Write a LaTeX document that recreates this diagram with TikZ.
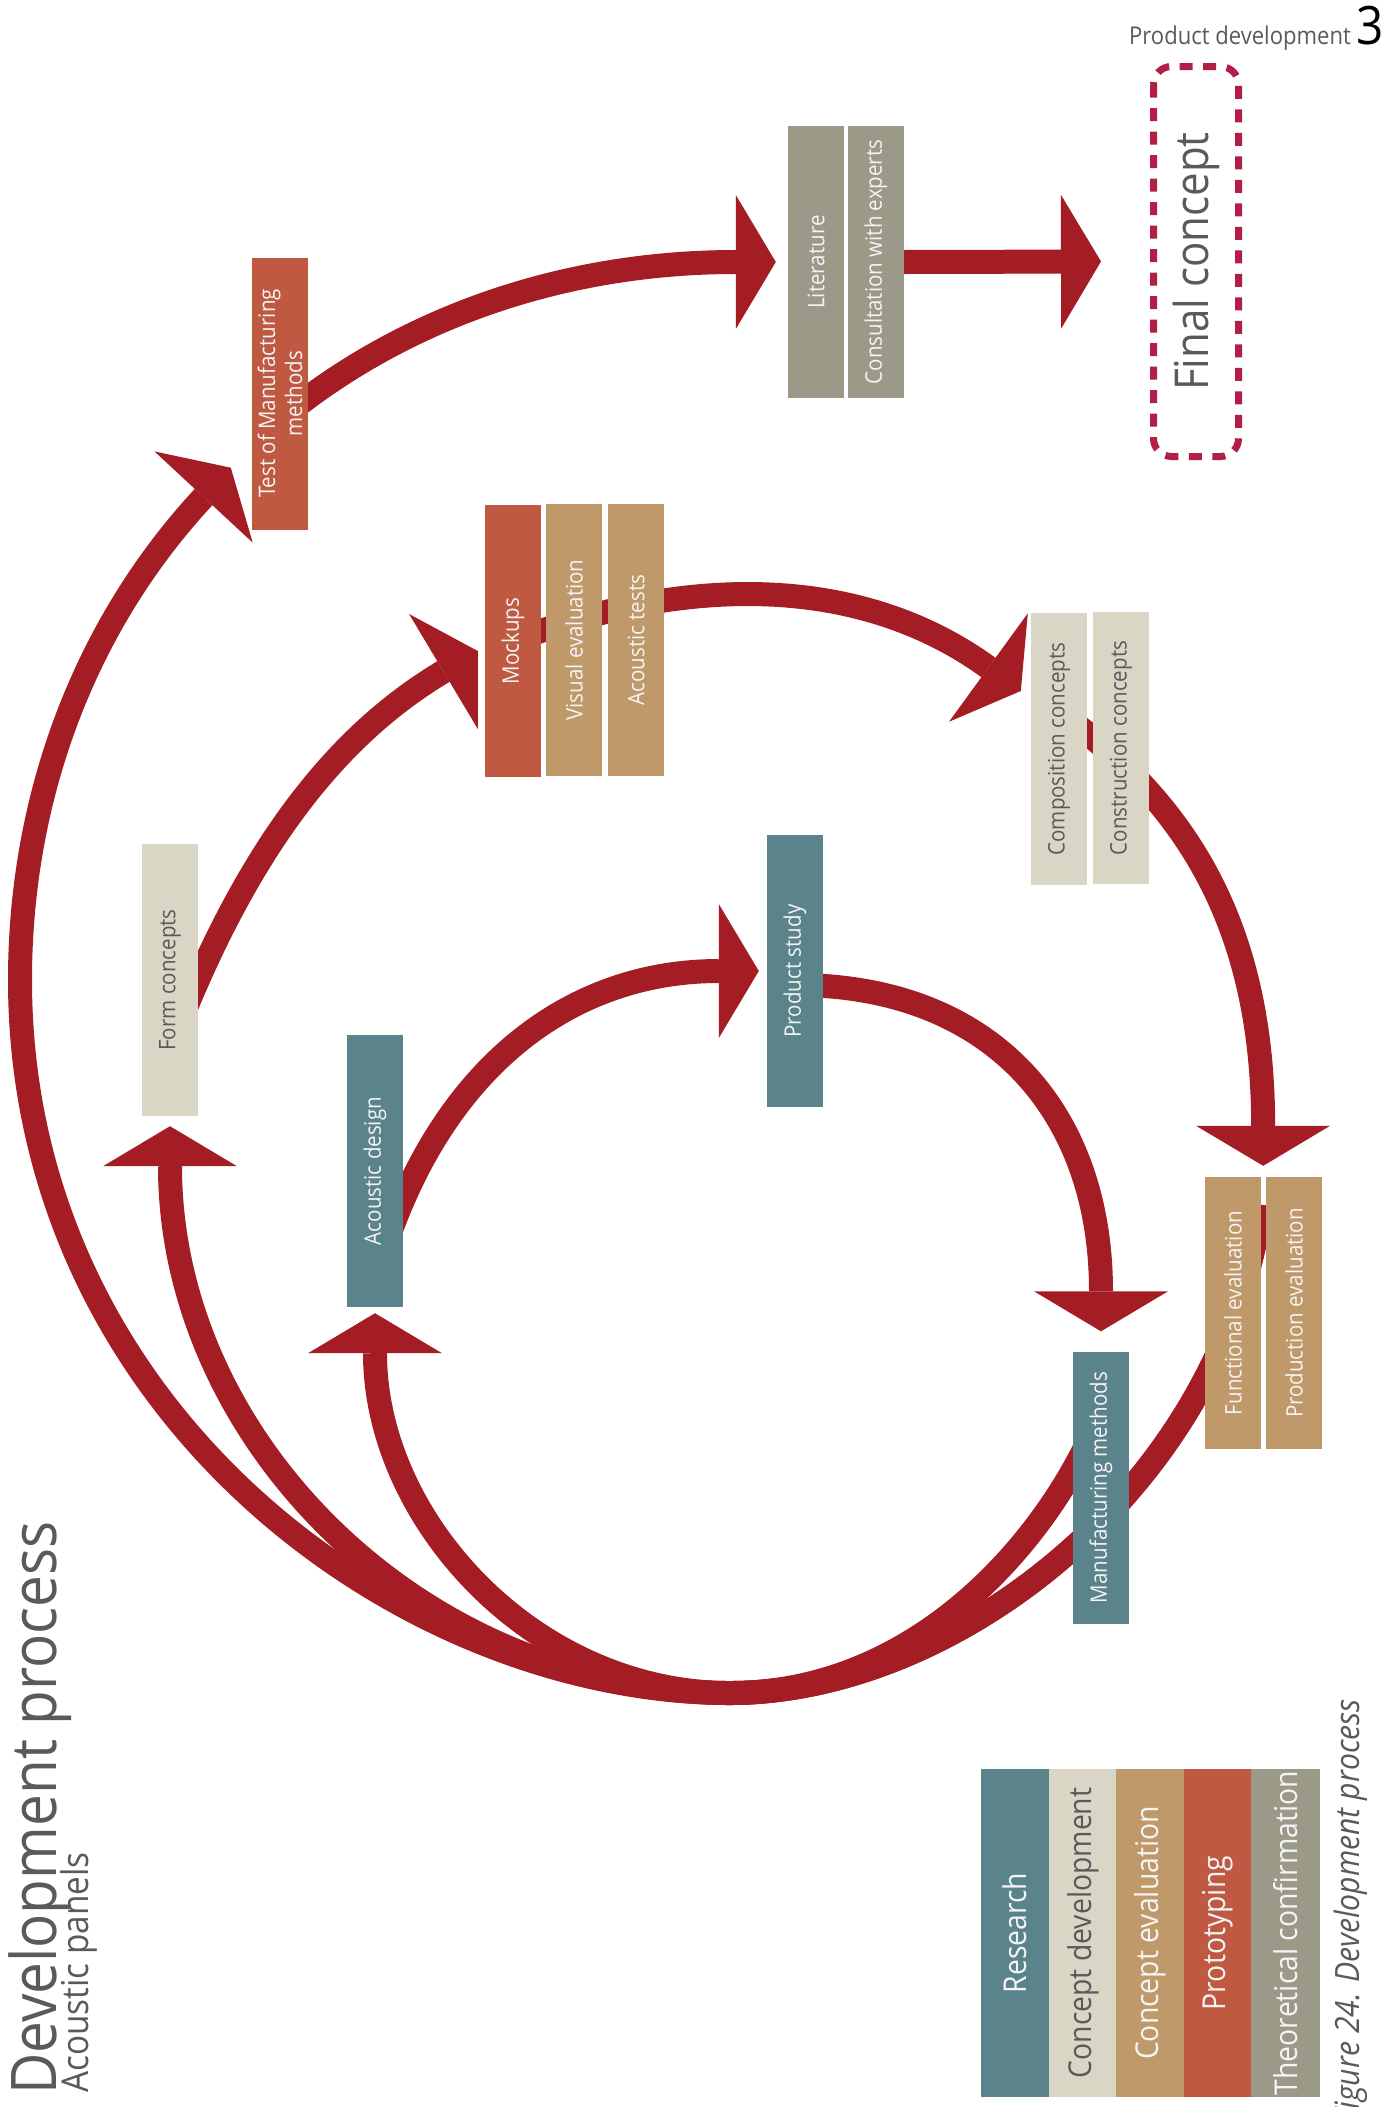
\documentclass[tikz,border=0pt]{standalone}
\usepackage{fontspec}
\setmainfont{Open Sans}[FakeStretch=0.9]
\usetikzlibrary{arrows.meta,backgrounds}

\definecolor{arrowred}{HTML}{A51D24}
\definecolor{dashred}{HTML}{B21E46}
\definecolor{clres}{HTML}{5A838B}
\definecolor{cldev}{HTML}{D9D6C5}
\definecolor{cleval}{HTML}{C0996B}
\definecolor{clproto}{HTML}{BF5942}
\definecolor{cltheo}{HTML}{9B9A89}
\definecolor{txtgrey}{HTML}{5A5A5A}
\definecolor{lighttxt}{HTML}{F4F4F4}

\begin{document}
\begin{tikzpicture}[x=1pt,y=-1pt]
		\tikzstyle{every node}=[font=\fontsize{22.8pt}{27pt}\selectfont]
		\tikzstyle{flow}=[draw=arrowred, line width=24pt, -{Triangle[length=40pt, width=134pt, line width=0pt]}]
		\tikzstyle{stage}=[rotate=90, minimum width=272pt, minimum height=56pt, inner sep=0pt, align=center, text=lighttxt]
		\tikzstyle{boxres}=[stage, fill=clres]
		\tikzstyle{boxdev}=[stage, fill=cldev, text=txtgrey]
		\tikzstyle{boxeval}=[stage, fill=cleval]
		\tikzstyle{boxproto}=[stage, fill=clproto]
		\tikzstyle{boxtheo}=[stage, fill=cltheo]
		\tikzstyle{legbox}=[rotate=90, minimum width=328pt, minimum height=68.5pt, inner sep=0pt, text=lighttxt, font=\fontsize{31.5pt}{34pt}\selectfont]
		
		\useasboundingbox (0,0) rectangle (1389,2107);
		
		\node[boxproto] (testmfg) at (280,393.5) {Test of Manufacturing\\methods};
		\node[boxtheo] (literature) at (816,262) {Literature};
		\node[boxtheo] (consult) at (876,262) {Consultation with experts};
		\node[draw=dashred, line width=7pt, dash pattern=on 13pt off 10.5pt, rounded corners=18pt, rotate=90, minimum width=390pt, minimum height=85pt, inner sep=0pt, text=txtgrey, font=\fontsize{46.7pt}{50pt}\selectfont] (final) at (1196,261.5) {Final concept};
		
		\node[boxproto] (mockups) at (513,641) {Mockups};
		\node[boxeval] (viseval) at (574,640) {Visual evaluation};
		\node[boxeval] (acoutest) at (636,640) {Acoustic tests};
		\node[boxdev] (compconc) at (1059,749) {Composition concepts};
		\node[boxdev] (constconc) at (1121,748) {Construction concepts};
		\node[boxdev] (formconc) at (170,980) {Form concepts};
		\node[boxeval] (funceval) at (1233,1313) {Functional evaluation};
		\node[boxeval] (prodeval) at (1294,1313) {Production evaluation};
		
		\node[boxres] (acoustic) at (375,1171) {Acoustic design};
		\node[boxres] (prodstudy) at (795,971) {Product study};
		\node[boxres] (mfgmethods) at (1101,1487.5) {Manufacturing methods};
		
		\node[legbox, fill=clres] (legres) at (1015,1933) {Research};
		\node[legbox, fill=cldev, text=txtgrey] (legdev) at (1083,1933) {Concept development};
		\node[legbox, fill=cleval] (legeval) at (1150.5,1933) {Concept evaluation};
		\node[legbox, fill=clproto] (legproto) at (1218,1933) {Prototyping};
		\node[legbox, fill=cltheo] (legtheo) at (1285.5,1933) {Theoretical confirmation};
		
		\node[rotate=90, anchor=base west, inner sep=0pt, text=txtgrey, font=\fontsize{63pt}{70pt}\selectfont] (title) at (56,2095) {Development process};
		\node[rotate=90, anchor=base west, inner sep=0pt, text=txtgrey, font=\fontsize{37pt}{40pt}\selectfont] (subtitle) at (88,2093) {Acoustic panels};
		\node[rotate=90, anchor=base east, inner sep=0pt, text=txtgrey, font=\fontsize{33.5pt}{36pt}\selectfont\itshape] (caption) at (1359,1699) {Figure 24. Development process};
		\node[anchor=base east, inner sep=0pt, text=txtgrey, font=\fontsize{24.5pt}{28pt}\selectfont] (header) at (1384,44) {Product development {\color{black}\fontsize{53pt}{56pt}\selectfont 3}};
		
		\coordinate (bottom) at (730,1693);
		\coordinate (tipA) at ([shift={(-21pt,62pt)}]testmfg.north west);
		\coordinate (tipB) at ([yshift=-10pt]formconc.west);
		\coordinate (tipC) at ([yshift=-6pt]acoustic.west);
		\coordinate (tipD) at ([xshift=-8pt]prodstudy.north);
		\coordinate (tipE) at ([yshift=20pt]mfgmethods.east);
		\coordinate (tipF) at ([shift={(-7pt,-10pt)}]mockups.north);
		\coordinate (tipG) at ([shift={(-10pt,58pt)}]compconc.north);
		\coordinate (tipH) at ([shift={(2pt,11pt)}]funceval.south east);
		\coordinate (tipI) at ([xshift=-12pt]literature.north);
		\coordinate (tipJ) at ([xshift=-49pt]final.north);
		
		\begin{scope}[on background layer]
			\fill[white] (0,0) rectangle (1389,2107);
			
			\draw[flow] ([yshift=-28pt]funceval.south east) .. controls (1225,1480) and (960,1693) .. (bottom) .. controls (400,1693) and (20,1410) .. (20,980) .. controls (20,801) and (82,628) .. (tipA);
			\draw[flow] ([yshift=-28pt]funceval.south east) .. controls (1225,1480) and (960,1693) .. (bottom) .. controls (421,1693) and (170,1440) .. (tipB);
			\draw[flow] ([yshift=-60pt]mfgmethods.east) .. controls (1060,1520) and (930,1693) .. (bottom) .. controls (534,1693) and (375,1520) .. (tipC);
			
			\draw[flow] ([yshift=27pt]acoustic.west) .. controls (430,1080) and (560,971) .. (tipD);
			\draw[flow] ([yshift=-14pt]prodstudy.center) .. controls (990,985) and (1101,1110) .. (tipE);
			\draw[flow] ([shift={(15pt,-30pt)}]formconc.center) .. controls (261,826) and (349,728) .. (tipF);
			\draw[flow] (mockups.center) .. controls (700,570) and (868,580) .. (tipG);
			\draw[flow] ([shift={(11pt,29pt)}]compconc.center) .. controls (1190,810) and (1263,930) .. (tipH);
			\draw[flow] ([yshift=-26pt]testmfg.center) .. controls (400,320) and (560,262) .. (tipI);
			\draw[flow] (consult.south) -- (tipJ);
		\end{scope}
		
\end{tikzpicture}
\end{document}
